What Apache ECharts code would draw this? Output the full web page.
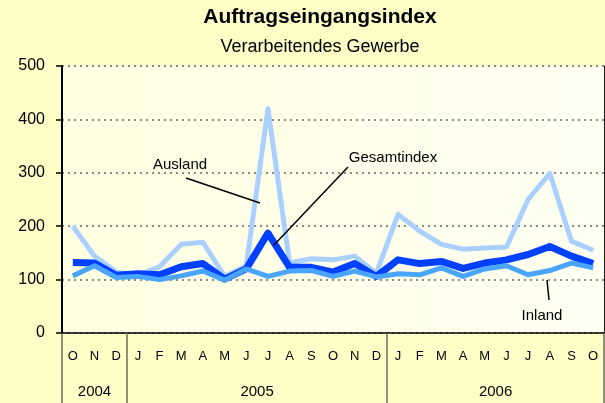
<!DOCTYPE html>
<html>
<head>
<meta charset="utf-8">
<script src="https://cdn.jsdelivr.net/npm/echarts@6/dist/echarts.min.js"></script>
<style>
  html, body { margin: 0; padding: 0; background: #FFFFC8; }
  #chart { width: 605px; height: 403px; }
</style>
</head>
<body>
<div id="chart"></div>
<script>
// Monate Okt 2004 bis Okt 2006
var months = ['O', 'N', 'D', 'J', 'F', 'M', 'A', 'M', 'J', 'J', 'A', 'S', 'O', 'N', 'D',
  'J', 'F', 'M', 'A', 'M', 'J', 'J', 'A', 'S', 'O'];
var years = ['2004', '2005', '2006'];
var monthsPerYear = [3, 12, 10];

var ausland = [200, 144, 114, 108, 124, 166, 170, 106, 126, 420, 131, 139, 137, 144, 112,
  222, 191, 166, 157, 159, 161, 250, 299, 172, 155];
var gesamt = [132, 131, 108, 111, 109, 124, 130, 101, 120, 187, 123, 123, 114, 130, 106,
  137, 130, 134, 121, 131, 137, 147, 162, 144, 130];
var inland = [107, 126, 104, 106, 100, 107, 116, 99, 120, 106, 116, 117, 106, 116, 105,
  111, 109, 122, 106, 120, 126, 109, 117, 131, 122];

var yTicks = [0, 100, 200, 300, 400, 500];

// Jahresgrenzen (Index des ersten Monats) und Jahresmitten
var yearStart = [];
var yearMid = {};
var acc = 0;
monthsPerYear.forEach(function (n, i) {
  yearStart.push(acc);
  yearMid[acc + n / 2] = years[i];
  acc += n;
});

var font = 'Liberation Sans, Arial, sans-serif';

var chart = echarts.init(document.getElementById('chart'));

var option = {
  backgroundColor: '#FFFFC8',
  animation: false,
  title: {
    text: 'Auftragseingangsindex',
    subtext: 'Verarbeitendes Gewerbe',
    left: 315,
    top: 2,
    textAlign: 'center',
    itemGap: 10,
    textStyle: { fontFamily: font, fontSize: 21, fontWeight: 'bold', color: '#000' },
    subtextStyle: { fontFamily: font, fontSize: 18, color: '#000' }
  },
  grid: {
    left: 62, right: 1, top: 66, bottom: 70,
    outerBoundsMode: 'none',
    show: true,
    borderWidth: 0,
    backgroundColor: {
      type: 'linear', x: 0, y: 0, x2: 1, y2: 0,
      colorStops: [{ offset: 0, color: '#FFFFE2' }, { offset: 1, color: '#FFFFF2' }]
    }
  },
  xAxis: [{
    type: 'category',
    data: months,
    boundaryGap: true,
    axisLine: { show: true, lineStyle: { color: '#000', width: 1.5 } },
    axisTick: {
      show: true,
      alignWithLabel: false,
      length: 70,
      interval: function (index) { return yearStart.indexOf(index) >= 0; },
      lineStyle: { color: '#6f6f5f', width: 1.5 }
    },
    axisLabel: { interval: 0, margin: 17, fontFamily: font, fontSize: 13, color: '#000' },
    splitLine: { show: false }
  }, {
    type: 'value',
    position: 'bottom',
    min: 0,
    max: months.length,
    interval: 0.5,
    axisLine: { show: false },
    axisTick: { show: false },
    splitLine: { show: false },
    axisLabel: {
      margin: 51,
      fontFamily: font,
      fontSize: 15,
      color: '#000',
      formatter: function (v) { return yearMid[v] || ''; }
    }
  }],
  yAxis: [{
    type: 'value',
    min: yTicks[0],
    max: yTicks[yTicks.length - 1],
    interval: 100,
    axisLine: { show: true, lineStyle: { color: '#000', width: 2 } },
    axisTick: { show: true, length: 6, lineStyle: { color: '#000', width: 1.5 } },
    axisLabel: { margin: 17, fontFamily: font, fontSize: 16, color: '#000' },
    splitLine: { show: true, lineStyle: { color: '#8a8a8a', width: 2, type: [2, 4] } }
  }, {
    type: 'value',
    position: 'right',
    min: yTicks[0],
    max: yTicks[yTicks.length - 1],
    axisLine: { show: true, lineStyle: { color: '#222', width: 1 } },
    axisTick: { show: false },
    axisLabel: { show: false },
    splitLine: { show: false }
  }],
  series: [{
    name: 'Ausland',
    type: 'line',
    data: ausland,
    symbol: 'none',
    z: 2,
    lineStyle: { color: '#A9D0FF', width: 5, join: 'round' }
  }, {
    name: 'Gesamtindex',
    type: 'line',
    data: gesamt,
    symbol: 'none',
    z: 3,
    lineStyle: { color: '#0040FF', width: 7, join: 'round' }
  }, {
    name: 'Inland',
    type: 'line',
    data: inland,
    symbol: 'none',
    z: 4,
    lineStyle: { color: '#4AA5FF', width: 5, join: 'round' }
  }],
  graphic: [
    { type: 'text', x: 180, y: 165, style: { text: 'Ausland', font: '15px ' + font, fill: '#000', align: 'center', verticalAlign: 'middle' }, z: 10 },
    { type: 'line', shape: { x1: 186, y1: 178, x2: 260, y2: 203 }, style: { stroke: '#000', lineWidth: 1.5 }, z: 10 },
    { type: 'text', x: 393, y: 158, style: { text: 'Gesamtindex', font: '15px ' + font, fill: '#000', align: 'center', verticalAlign: 'middle' }, z: 10 },
    { type: 'line', shape: { x1: 348, y1: 167, x2: 274, y2: 245 }, style: { stroke: '#000', lineWidth: 1.5 }, z: 10 },
    { type: 'text', x: 542, y: 316, style: { text: 'Inland', font: '15px ' + font, fill: '#000', align: 'center', verticalAlign: 'middle' }, z: 10 },
    { type: 'line', shape: { x1: 547, y1: 280, x2: 549, y2: 300 }, style: { stroke: '#000', lineWidth: 1.5 }, z: 10 }
  ]
};

chart.setOption(option);
</script>
</body>
</html>
